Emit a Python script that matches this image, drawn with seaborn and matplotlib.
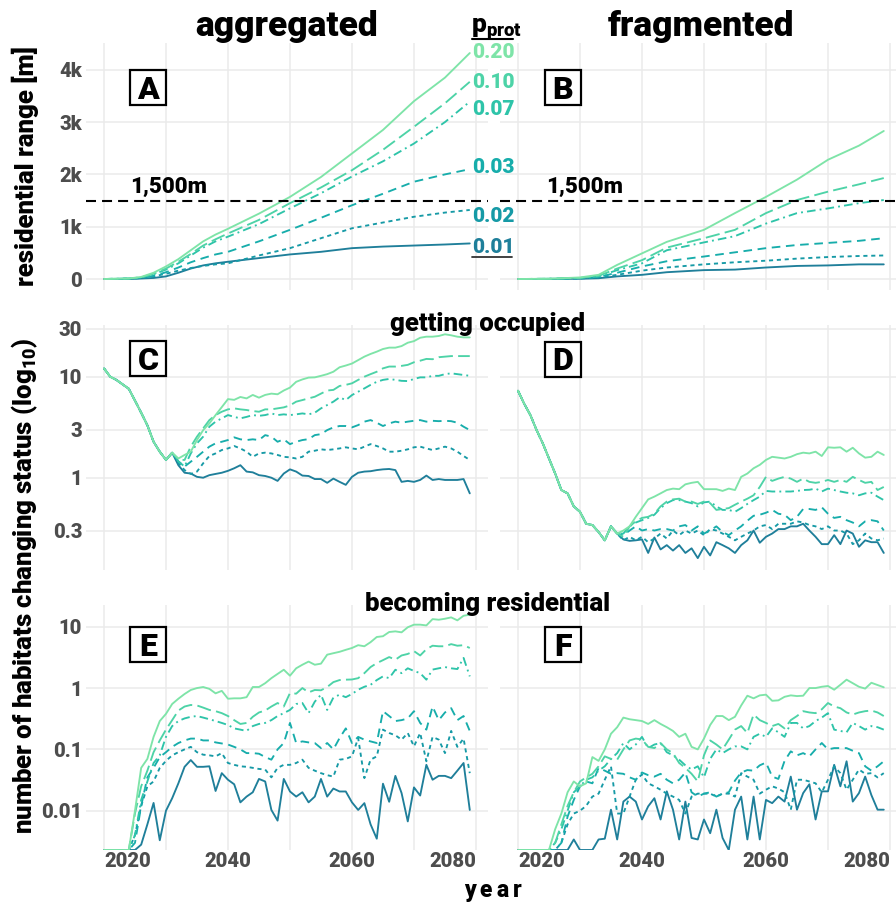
import matplotlib
matplotlib.use('Agg')
import numpy as np
import pandas as pd
import matplotlib.pyplot as plt
from matplotlib.lines import Line2D
from matplotlib.patches import Rectangle
from matplotlib.ticker import NullLocator
import seaborn as sns

W, H = 896, 905
P_LABELS = ['0.01', '0.02', '0.03', '0.07', '0.10', '0.20']
COLORS = ['#1f7f9a', '#169aa6', '#17adab', '#2ec4a9', '#4dd3a7', '#7ee4a8']

# --- A / B: residential range [m] ---
YEARS_A = [2020, 2024, 2026, 2028, 2030, 2032, 2034, 2036, 2038, 2040, 2045, 2050, 2055, 2060, 2065, 2070, 2075, 2079]
A_001 = [0, 0, 10, 20, 50, 120, 200, 260, 300, 330, 400, 470, 520, 590, 620, 640, 660, 680]
A_002 = [0, 0, 20, 50, 100, 160, 210, 250, 280, 300, 450, 590, 780, 970, 1080, 1190, 1270, 1320]
A_003 = [0, 10, 20, 60, 130, 220, 320, 400, 470, 520, 720, 940, 1170, 1410, 1630, 1860, 2000, 2100]
A_007 = [0, 10, 30, 90, 180, 300, 450, 600, 720, 810, 1050, 1350, 1640, 1960, 2250, 2590, 3000, 3390]
A_010 = [0, 10, 30, 100, 200, 330, 480, 640, 760, 870, 1130, 1450, 1750, 2080, 2470, 2910, 3360, 3770]
A_020 = [0, 10, 40, 120, 240, 380, 550, 720, 850, 960, 1250, 1570, 1950, 2400, 2850, 3400, 3850, 4320]

YEARS_B = [2020, 2025, 2030, 2033, 2036, 2040, 2044, 2050, 2055, 2060, 2065, 2070, 2075, 2079]
B_001 = [0, 1, 5, 15, 50, 80, 130, 170, 180, 220, 250, 260, 280, 280]
B_002 = [0, 2, 10, 30, 80, 160, 220, 280, 320, 350, 390, 420, 440, 450]
B_003 = [0, 3, 15, 40, 120, 240, 340, 430, 510, 590, 650, 690, 730, 780]
B_007 = [0, 5, 20, 50, 170, 300, 550, 700, 820, 1060, 1260, 1350, 1450, 1510]
B_010 = [0, 5, 20, 60, 200, 360, 600, 780, 940, 1260, 1510, 1670, 1810, 1930]
B_020 = [0, 5, 30, 80, 270, 490, 710, 940, 1260, 1570, 1900, 2280, 2550, 2830]

YEARS = list(range(2020, 2080))

# --- C: getting occupied, aggregated ---
C_START = [12.1, 10.0, 9.3, 8.4, 7.6, 5.8, 4.4, 3.3, 2.27, 1.81, 1.5, 1.77]
C_001 = C_START + [1.33, 1.12, 1.1, 1.02, 1.0, 1.06, 1.09, 1.12, 1.17, 1.24,
                   1.33, 1.15, 1.13, 1.06, 1.04, 1.0, 0.93, 1.1, 1.21, 1.15,
                   1.05, 1.04, 0.97, 0.97, 0.89, 0.98, 0.91, 0.85, 1.02, 1.12,
                   1.15, 1.16, 1.19, 1.21, 1.22, 1.19, 0.91, 0.93, 0.91, 0.95,
                   1.05, 0.95, 0.97, 0.95, 0.95, 0.95, 0.97, 0.70]
C_002 = C_START + [1.4, 1.19, 1.09, 1.15, 1.39, 1.64, 1.74, 1.88, 1.95, 2.06,
                   1.95, 1.81, 1.61, 1.74, 1.77, 1.74, 1.68, 1.61, 1.59, 1.55,
                   1.61, 1.81, 1.85, 1.91, 1.88, 1.91, 1.95, 2.0, 1.95, 1.91,
                   2.03, 2.15, 2.06, 1.95, 1.81, 1.81, 1.85, 1.91, 2.0, 2.03,
                   1.95, 1.88, 1.95, 2.03, 1.95, 1.81, 1.64, 1.5]
C_003 = C_START + [1.45, 1.29, 1.44, 1.61, 1.81, 2.03, 2.19, 2.27, 2.36, 2.51,
                   2.4, 2.36, 2.4, 2.36, 2.64, 2.55, 2.27, 2.4, 2.15, 2.27,
                   2.36, 2.41, 2.64, 2.7, 2.96, 3.15, 3.25, 3.25, 3.15, 3.32,
                   3.59, 3.72, 3.5, 3.25, 3.45, 3.59, 3.5, 3.59, 3.66, 3.72,
                   3.59, 3.66, 3.63, 3.66, 3.63, 3.5, 3.2, 2.96]
C_007 = C_START + [1.45, 1.29, 1.74, 2.19, 2.55, 3.2, 3.59, 3.87, 4.17, 4.0,
                   3.87, 4.0, 4.17, 4.1, 4.17, 4.33, 4.17, 4.24, 4.17, 4.24,
                   4.33, 4.24, 4.4, 4.86, 5.24, 5.66, 6.25, 5.87, 6.58, 7.1,
                   7.66, 8.3, 8.9, 9.3, 9.5, 9.3, 9.1, 9.05, 9.5, 9.85,
                   9.85, 10.2, 10.2, 10.6, 10.8, 10.6, 10.4, 10.2]
C_010 = C_START + [1.5, 1.5, 2.03, 2.55, 3.08, 3.72, 4.17, 4.5, 4.75, 4.86,
                   4.75, 4.68, 4.57, 4.5, 4.75, 4.75, 4.86, 4.97, 5.2, 5.66,
                   5.87, 6.1, 6.33, 6.8, 7.3, 7.4, 8.1, 8.3, 8.6, 9.3,
                   10.0, 10.6, 11.2, 12.1, 12.6, 12.6, 12.8, 13.1, 13.9, 14.4,
                   15.0, 14.9, 15.6, 15.8, 16.0, 16.0, 16.0, 16.0]
C_020 = C_START + [1.55, 1.68, 1.81, 2.36, 2.96, 3.45, 4.17, 5.0, 6.0, 5.9,
                   6.3, 6.1, 6.6, 6.2, 6.6, 6.8, 6.7, 7.3, 7.8, 8.9,
                   9.4, 9.8, 9.85, 10.2, 10.6, 11.2, 12.4, 12.9, 13.5, 14.6,
                   15.8, 16.8, 17.7, 18.8, 19.4, 19.4, 20.1, 21.7, 22.5, 24.3,
                   24.9, 24.9, 25.3, 26.3, 25.7, 24.9, 24.5, 24.5]

# --- D: getting occupied, fragmented ---
D_START = [7.27, 5.4, 4.17, 2.96, 2.19, 1.55, 1.10, 0.755, 0.70, 0.52, 0.46, 0.35, 0.34, 0.29, 0.24, 0.33, 0.28]
D_001 = D_START + [0.245, 0.237, 0.24, 0.245, 0.18, 0.256, 0.195, 0.215, 0.19, 0.215,
                   0.18, 0.2, 0.16, 0.207, 0.17, 0.23, 0.215, 0.2, 0.18, 0.215,
                   0.24, 0.30, 0.227, 0.26, 0.28, 0.31, 0.31, 0.33, 0.33, 0.35,
                   0.30, 0.26, 0.22, 0.22, 0.27, 0.22, 0.30, 0.28, 0.207, 0.24,
                   0.23, 0.23, 0.18]
D_002 = D_START + [0.24, 0.26, 0.24, 0.26, 0.23, 0.25, 0.28, 0.25, 0.30, 0.27,
                   0.30, 0.28, 0.30, 0.27, 0.31, 0.30, 0.28, 0.26, 0.24, 0.26,
                   0.28, 0.30, 0.33, 0.34, 0.31, 0.35, 0.35, 0.35, 0.37, 0.36,
                   0.34, 0.33, 0.31, 0.33, 0.30, 0.30, 0.28, 0.22, 0.24, 0.28,
                   0.25, 0.24, 0.25]
D_003 = D_START + [0.27, 0.30, 0.33, 0.30, 0.31, 0.30, 0.31, 0.31, 0.30, 0.33,
                   0.34, 0.30, 0.33, 0.28, 0.30, 0.33, 0.29, 0.27, 0.30, 0.33,
                   0.375, 0.42, 0.43, 0.45, 0.48, 0.44, 0.43, 0.38, 0.41, 0.49,
                   0.49, 0.48, 0.51, 0.44, 0.40, 0.41, 0.38, 0.36, 0.33, 0.37,
                   0.38, 0.37, 0.30]
D_007 = D_START + [0.28, 0.33, 0.36, 0.38, 0.40, 0.43, 0.50, 0.56, 0.60, 0.60,
                   0.58, 0.56, 0.52, 0.57, 0.58, 0.52, 0.48, 0.48, 0.46, 0.50,
                   0.55, 0.60, 0.65, 0.74, 0.73, 0.73, 0.73, 0.73, 0.74, 0.755,
                   0.76, 0.78, 0.73, 0.78, 0.755, 0.73, 0.71, 0.70, 0.67, 0.70,
                   0.71, 0.65, 0.60]
D_010 = D_START + [0.26, 0.33, 0.37, 0.40, 0.41, 0.44, 0.52, 0.58, 0.61, 0.62,
                   0.58, 0.58, 0.55, 0.58, 0.56, 0.48, 0.49, 0.50, 0.54, 0.58,
                   0.62, 0.67, 0.81, 1.02, 0.93, 0.98, 1.02, 0.98, 0.91, 0.98,
                   0.91, 0.89, 0.91, 0.95, 0.91, 0.95, 0.91, 1.02, 0.95, 0.89,
                   0.91, 0.755, 0.81]
D_020 = D_START + [0.30, 0.33, 0.41, 0.50, 0.61, 0.65, 0.70, 0.755, 0.78, 0.77,
                   0.86, 0.89, 0.91, 0.77, 0.77, 0.77, 0.74, 0.78, 0.755, 1.02,
                   1.10, 1.24, 1.34, 1.5, 1.61, 1.58, 1.55, 1.61, 1.71, 1.77,
                   1.74, 1.81, 1.64, 2.0, 1.98, 2.0, 1.81, 1.98, 1.74, 1.58,
                   1.61, 1.81, 1.68]

# --- E: becoming residential, aggregated ---
E_001 = [0, 0, 0, 0, 0, 0, 0.0028, 0.006, 0.0134, 0.0033,
         0.010, 0.016, 0.028, 0.052, 0.067, 0.052, 0.052, 0.053, 0.021, 0.041,
         0.032, 0.027, 0.0137, 0.017, 0.02, 0.033, 0.03, 0.0103, 0.0069, 0.033,
         0.0206, 0.017, 0.02, 0.0137, 0.017, 0.033, 0.017, 0.023, 0.0206, 0.0206,
         0.0137, 0.0103, 0.0133, 0.006, 0.0035, 0.0276, 0.014, 0.037, 0.0194, 0.0067,
         0.024, 0.0177, 0.056, 0.032, 0.037, 0.037, 0.034, 0.045, 0.06, 0.0103]
E_002 = [0, 0, 0, 0, 0, 0.004, 0.012, 0.025, 0.03, 0.05,
         0.065, 0.08, 0.09, 0.10, 0.11, 0.09, 0.082, 0.08, 0.077, 0.087,
         0.06, 0.056, 0.053, 0.052, 0.05, 0.048, 0.047, 0.035, 0.05, 0.056,
         0.056, 0.06, 0.068, 0.05, 0.045, 0.041, 0.038, 0.036, 0.068, 0.07,
         0.077, 0.153, 0.034, 0.068, 0.077, 0.21, 0.185, 0.17, 0.144, 0.185,
         0.112, 0.185, 0.064, 0.16, 0.144, 0.087, 0.2, 0.11, 0.15, 0.041]
E_003 = [0, 0, 0, 0, 0, 0.003, 0.012, 0.035, 0.05, 0.075,
         0.09, 0.11, 0.127, 0.14, 0.15, 0.15, 0.14, 0.14, 0.13, 0.125,
         0.12, 0.11, 0.10, 0.087, 0.087, 0.085, 0.075, 0.068, 0.10, 0.127,
         0.27, 0.127, 0.135, 0.13, 0.127, 0.105, 0.127, 0.1, 0.153, 0.22,
         0.127, 0.16, 0.144, 0.135, 0.127, 0.42, 0.35, 0.29, 0.30, 0.32,
         0.42, 0.27, 0.21, 0.50, 0.30, 0.40, 0.47, 0.30, 0.35, 0.2]
E_007 = [0, 0, 0, 0, 0, 0.004, 0.015, 0.03, 0.06, 0.08,
         0.16, 0.24, 0.29, 0.32, 0.34, 0.35, 0.33, 0.31, 0.29, 0.27,
         0.25, 0.22, 0.21, 0.20, 0.24, 0.26, 0.27, 0.30, 0.35, 0.39,
         0.44, 0.55, 0.57, 0.39, 0.60, 0.78, 0.44, 0.70, 0.78, 0.71,
         0.80, 0.94, 1.05, 1.13, 1.35, 1.55, 1.45, 1.99, 1.75, 2.1,
         1.9, 1.75, 1.37, 2.0, 2.1, 2.2, 2.1, 2.04, 3.1, 1.55]
E_010 = [0, 0, 0, 0, 0, 0.009, 0.025, 0.045, 0.09, 0.14,
         0.21, 0.30, 0.43, 0.50, 0.53, 0.52, 0.48, 0.44, 0.42, 0.39,
         0.35, 0.30, 0.26, 0.27, 0.34, 0.40, 0.43, 0.50, 0.57, 0.50,
         0.83, 0.81, 1.0, 0.85, 0.93, 0.92, 1.04, 1.25, 1.35, 1.37,
         1.38, 1.45, 1.75, 2.2, 2.55, 2.85, 3.2, 2.9, 3.4, 3.6,
         4.0, 3.4, 4.3, 4.9, 4.8, 4.8, 5.2, 4.9, 5.0, 4.5]
E_020 = [0, 0, 0, 0, 0, 0.01, 0.05, 0.07, 0.16, 0.29,
         0.38, 0.55, 0.67, 0.80, 0.93, 1.0, 1.04, 0.97, 0.82, 0.90,
         0.67, 0.68, 0.68, 0.71, 1.04, 1.04, 1.2, 1.45, 1.7, 1.99,
         1.59, 2.1, 2.4, 2.7, 2.4, 2.5, 3.5, 3.7, 3.9, 4.2,
         4.5, 5.0, 4.8, 5.6, 6.8, 7.0, 8.2, 8.4, 8.1, 9.8,
         10.8, 10.8, 10.5, 13.3, 13.0, 13.5, 14.2, 12.7, 15.1, 15.7]

# --- F: becoming residential, fragmented ---
F_001 = [0, 0, 0, 0, 0, 0, 0, 0, 0, 0.0034,
         0, 0, 0, 0.0034, 0.0035, 0.0104, 0.0034, 0.0141, 0.017, 0.0141,
         0.0072, 0.0118, 0.016, 0.0072, 0.0207, 0.0104, 0.0034, 0.0141, 0.0036, 0.0034,
         0.0072, 0.0043, 0.0104, 0.0036, 0, 0.0104, 0.017, 0.0034, 0.017, 0.0034,
         0.015, 0.0133, 0.017, 0.0141, 0.036, 0.0104, 0.0194, 0.027, 0.0072, 0.0207,
         0.0207, 0.056, 0.025, 0.064, 0.0141, 0.0194, 0.036, 0.018, 0.0104, 0.0104]
F_002 = [0, 0, 0, 0, 0, 0, 0, 0.003, 0.006, 0.009,
         0.01, 0.012, 0.017, 0.019, 0.032, 0.053, 0.009, 0.009, 0.017, 0.032,
         0.039, 0.028, 0.025, 0.022, 0.019, 0.017, 0.015, 0.009, 0.017, 0.019,
         0.019, 0.019, 0.017, 0.019, 0.019, 0.017, 0.041, 0.036, 0.032, 0.019,
         0.022, 0.025, 0.023, 0.02, 0.0104, 0.032, 0.032, 0.03, 0.028, 0.02,
         0.032, 0.053, 0.041, 0.022, 0.032, 0.047, 0.04, 0.041, 0.035, 0.041]
F_003 = [0, 0, 0, 0, 0, 0, 0, 0.003, 0.008, 0.015,
         0.025, 0.03, 0.028, 0.05, 0.045, 0.04, 0.041, 0.04, 0.035, 0.032,
         0.042, 0.038, 0.036, 0.04, 0.032, 0.028, 0.032, 0.042, 0.02, 0.017,
         0.019, 0.02, 0.017, 0.019, 0.02, 0.031, 0.042, 0.046, 0.045, 0.055,
         0.061, 0.036, 0.033, 0.065, 0.093, 0.08, 0.087, 0.077, 0.10, 0.127,
         0.10, 0.105, 0.105, 0.105, 0.095, 0.087, 0.053, 0.045, 0.053, 0.064]
F_007 = [0, 0, 0, 0, 0, 0, 0.003, 0.005, 0.01, 0.02,
         0.025, 0.032, 0.035, 0.045, 0.053, 0.07, 0.087, 0.127, 0.10, 0.12,
         0.16, 0.105, 0.12, 0.127, 0.09, 0.08, 0.068, 0.055, 0.047, 0.053,
         0.035, 0.07, 0.10, 0.087, 0.10, 0.112, 0.112, 0.10, 0.16, 0.18,
         0.16, 0.22, 0.19, 0.16, 0.27, 0.27, 0.22, 0.24, 0.29, 0.33,
         0.39, 0.21, 0.2, 0.19, 0.27, 0.24, 0.21, 0.24, 0.23, 0.21]
F_010 = [0, 0, 0, 0, 0, 0, 0.003, 0.006, 0.012, 0.02,
         0.03, 0.035, 0.04, 0.053, 0.077, 0.07, 0.068, 0.10, 0.14, 0.15,
         0.145, 0.11, 0.105, 0.127, 0.10, 0.087, 0.06, 0.05, 0.04, 0.03,
         0.08, 0.14, 0.12, 0.10, 0.144, 0.21, 0.24, 0.185, 0.37, 0.30,
         0.27, 0.24, 0.26, 0.22, 0.30, 0.35, 0.42, 0.40, 0.39, 0.45,
         0.57, 0.50, 0.47, 0.40, 0.37, 0.40, 0.42, 0.43, 0.40, 0.35]
F_020 = [0, 0, 0, 0, 0, 0, 0.005, 0.009, 0.02, 0.03,
         0.025, 0.028, 0.075, 0.065, 0.10, 0.18, 0.23, 0.33, 0.31, 0.30,
         0.29, 0.26, 0.30, 0.26, 0.23, 0.20, 0.16, 0.18, 0.11, 0.10,
         0.15, 0.25, 0.35, 0.35, 0.30, 0.34, 0.52, 0.75, 0.68, 0.76,
         0.78, 0.62, 0.63, 0.72, 0.76, 0.74, 0.75, 1.0, 1.0, 1.05,
         1.08, 0.94, 1.13, 1.37, 1.2, 1.05, 0.98, 1.22, 1.12, 1.03]


def frame(years, series, floor=None):
    parts = [pd.DataFrame({'year': years, 'value': vals, 'p': lab})
             for lab, vals in zip(P_LABELS, series)]
    d = pd.concat(parts, ignore_index=True)
    if floor is not None:
        # zeros sit on the panel floor, like -Inf in ggplot
        d['value'] = d['value'].clip(lower=floor)
    return d


def px(x, y):
    return x / W, 1 - y / H


sns.set_theme(style='white')
plt.rcParams['font.family'] = ['Roboto', 'DejaVu Sans']
plt.rcParams['font.weight'] = 'black'
plt.rcParams['text.color'] = 'black'
plt.rcParams['mathtext.default'] = 'regular'

PAL = dict(zip(P_LABELS, COLORS))
DASHES = {'0.01': '', '0.02': (2.2, 2.0), '0.03': (4.6, 3.0),
          '0.07': (4.6, 2.2, 1.0, 2.2), '0.10': (7.6, 2.8), '0.20': ''}

XLIM = (2017.1, 2081.94)
LIM_A = (-210, 4512)
LIM_C = (0.122, 32.5)
LIM_E = (0.00229, 22.6)
TICK_GRAY = '#4d4d4d'

fig = plt.figure(figsize=(W / 100, H / 100), dpi=100)
cols = [86, 500]
rows = [(43, 290), (325, 570), (605, 850)]
axes = {}
for r, (top, bot) in enumerate(rows):
    for c, left in enumerate(cols):
        axes[(r, c)] = fig.add_axes([left / W, 1 - bot / H, 402 / W, (bot - top) / H])

panels = {
    (0, 0): frame(YEARS_A, [A_001, A_002, A_003, A_007, A_010, A_020]),
    (0, 1): frame(YEARS_B, [B_001, B_002, B_003, B_007, B_010, B_020]),
    (1, 0): frame(YEARS, [C_001, C_002, C_003, C_007, C_010, C_020]),
    (1, 1): frame(YEARS, [D_001, D_002, D_003, D_007, D_010, D_020]),
    (2, 0): frame(YEARS, [E_001, E_002, E_003, E_007, E_010, E_020], floor=LIM_E[0]),
    (2, 1): frame(YEARS, [F_001, F_002, F_003, F_007, F_010, F_020], floor=LIM_E[0]),
}

for (r, c), ax in axes.items():
    d = panels[(r, c)]
    if r > 0:
        ax.set_yscale('log')
    sns.lineplot(data=d, x='year', y='value', hue='p', style='p',
                 hue_order=P_LABELS, style_order=P_LABELS, palette=PAL,
                 dashes=DASHES, estimator=None, lw=1.35, legend=False, ax=ax)
    ax.set_xlim(*XLIM)
    ax.set_xlabel('')
    ax.set_ylabel('')
    for s in ax.spines.values():
        s.set_visible(False)
    ax.grid(True, color='#ebebeb', lw=1.1)
    ax.set_axisbelow(True)
    ax.tick_params(length=0, labelsize=14.5, labelcolor=TICK_GRAY)
    ax.tick_params(axis='y', pad=2.8)
    ax.tick_params(axis='x', pad=1.6)
    ax.set_xticks(range(2020, 2081, 10))
    if r == 2:
        ax.set_xticklabels(['2020', '', '2040', '', '2060', '', '2080'])
        labs = ax.get_xticklabels()
        labs[0].set_ha('left')
        labs[-1].set_ha('right')
    else:
        ax.set_xticklabels([])
    if r == 0:
        ax.set_ylim(*LIM_A)
        ax.set_yticks([0, 1000, 2000, 3000, 4000])
        ax.set_yticklabels(['0', '1k', '2k', '3k', '4k'] if c == 0 else [])
        ax.axhline(1500, color='black', lw=1.5, ls=(0, (4.8, 2.9)), zorder=3)
    elif r == 1:
        ax.set_ylim(*LIM_C)
        ax.set_yticks([0.3, 1, 3, 10, 30])
        ax.set_yticklabels(['0.3', '1', '3', '10', '30'] if c == 0 else [])
    else:
        ax.set_ylim(*LIM_E)
        ax.set_yticks([0.01, 0.1, 1, 10])
        ax.set_yticklabels(['0.01', '0.1', '1', '10'] if c == 0 else [])
    ax.yaxis.set_minor_locator(NullLocator())

# column titles and row headings
fig.text(*px(287, 36), 'aggregated', ha='center', va='baseline', fontsize=25.5)
fig.text(*px(701, 36), 'fragmented', ha='center', va='baseline', fontsize=25.5)
fig.text(*px(487.5, 331), 'getting occupied', ha='center', va='baseline', fontsize=18.5)
fig.text(*px(487.5, 611), 'becoming residential', ha='center', va='baseline', fontsize=18.5)

# axis titles
fig.text(*px(25, 166.5), 'residential range [m]', rotation=90, ha='center', va='center', fontsize=18.5)
fig.text(*px(25, 586), 'number of habitats changing status (log$_{10}$)', rotation=90,
         ha='center', va='center', fontsize=18.5)
for ch, x in zip('year', [470, 486, 502.5, 517.5]):
    fig.text(*px(x, 896.5), ch, ha='center', va='baseline', fontsize=16.5)

# threshold labels
fig.text(*px(130, 192.5), '1,500m', ha='left', va='baseline', fontsize=16)
fig.text(*px(546, 192.5), '1,500m', ha='left', va='baseline', fontsize=16)

# panel letters
for lab, (cx, cy) in zip('ABCDEF', [(148, 87.5), (562.7, 87.7), (148, 358.7),
                                     (562.7, 359), (148, 644.7), (562.7, 644.7)]):
    fig.add_artist(Rectangle(px(cx - 18, cy + 17.5), 36 / W, 35 / H, transform=fig.transFigure,
                             facecolor='white', edgecolor='black', lw=1.6, zorder=4))
    fig.text(*px(cx, cy + 11.5), lab, ha='center', va='baseline', fontsize=23, zorder=5)

# direct labels for p_prot
fig.text(*px(471, 33), 'p$_{prot}$', ha='left', va='baseline', fontsize=19)
fig.add_artist(Line2D([472 / W, 513 / W], [1 - 39.5 / H] * 2, color='black', lw=1.5,
                      transform=fig.transFigure))
for lab, col, yb in zip(P_LABELS, COLORS, [253.3, 221.7, 173.3, 115, 88.3, 58.3]):
    fig.text(*px(472, yb), lab, ha='left', va='baseline', fontsize=15, color=col)
fig.add_artist(Line2D([472 / W, 512 / W], [1 - 257.5 / H] * 2, color='#333333', lw=1.3,
                      transform=fig.transFigure))

fig.savefig('out.png', dpi=100)
